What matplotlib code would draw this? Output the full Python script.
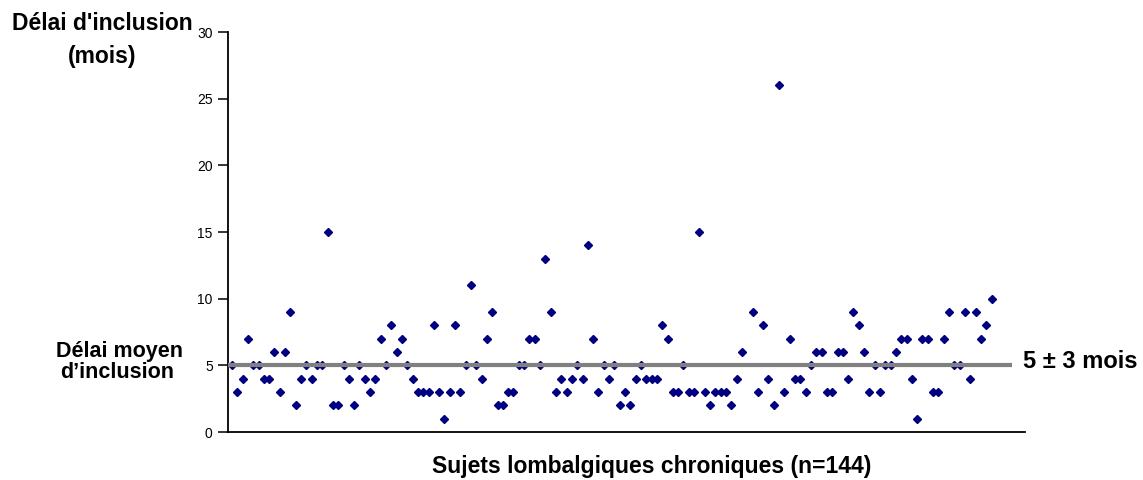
import numpy as np
import matplotlib
matplotlib.use("Agg")
import matplotlib.pyplot as plt

# Délai d'inclusion (mois) per subject; one blank cell (NaN) as in the source chart
delai = [5, 3, 4, 7, 5, 5, 4, 4, 6, 3, 6, 9, 2, 4, 5, 4, 5, 5, 15, 2, 2, 5, 4, 2, 5,
         4, 3, 4, 7, 5, 8, 6, 7, 5, 4, 3, 3, 3, 8, 3, 1, 3, 8, 3, 5, 11, 5, 4, 7,
         9, 2, 2, 3, 3, 5, 5, 7, 7, 5, 13, 9, 3, 4, 3, 4, 5, 4, 14, 7, 3, 5, 4, 5, 2,
         3, 2, 4, 5, 4, 4, 4, 8, 7, 3, 3, 5, 3, 3, 15, 3, 2, 3, 3, 3, 2, 4, 6,
         np.nan,
         9, 3, 8, 4, 2, 26, 3, 7, 4, 4, 3, 5, 6, 6, 3, 3, 6, 6, 4, 9, 8, 6, 3, 5, 3,
         5, 5, 6, 7, 7, 4, 1, 7, 7, 3, 3, 7, 9, 5, 5, 9, 4, 9, 7, 8, 10]
subjects = np.arange(1, len(delai) + 1)
mean_delai = 5
yticks = [0, 5, 10, 15, 20, 25, 30]

title_l1 = "Délai d'inclusion"
title_l2 = "(mois)"
mean_l1 = "Délai moyen"
mean_l2 = "d\u2019inclusion"
mean_txt = "5 ± 3 mois"
xlabel = "Sujets lombalgiques chroniques (n=144)"

plt.rcParams['font.family'] = ['Liberation Sans', 'DejaVu Sans']

W, H = 1143, 480
fig = plt.figure(figsize=(W / 100, H / 100), dpi=100)
ax = fig.add_axes([228 / W, 48 / H, (1025 - 228) / W, 400 / H])

ax.plot(subjects, delai, linestyle='none', marker='D', ms=4.2,
        color='#000080', mec='#000080', zorder=2)
ax.plot([0.25, 147.9], [mean_delai, mean_delai], color='#808080', lw=3,
        solid_capstyle='butt', zorder=3)

ax.set_xlim(0.25, 150.3)
ax.set_ylim(0, 30)
ax.set_yticks(yticks)
ax.set_xticks([])
for s in ['top', 'right']:
    ax.spines[s].set_visible(False)
for s in ['left', 'bottom']:
    ax.spines[s].set_linewidth(1.3)
    ax.spines[s].set_color('black')
ax.tick_params(axis='y', direction='out', length=7, width=1.1, pad=4,
               labelsize=10, colors='black')


def ftext(x, y, s, **kw):
    fig.text(x / W, 1 - y / H, s, ha='center', va='center', fontweight='bold', **kw)


ftext(102, 23, title_l1, fontsize=16.5)
ftext(102, 56, title_l2, fontsize=16.5)
ftext(119, 352, mean_l1, fontsize=15.5)
ftext(117, 373, mean_l2, fontsize=15.5)
ftext(1080, 362, mean_txt, fontsize=17)
ftext(652, 466, xlabel, fontsize=16.5)

fig.savefig("out.png", dpi=100)
